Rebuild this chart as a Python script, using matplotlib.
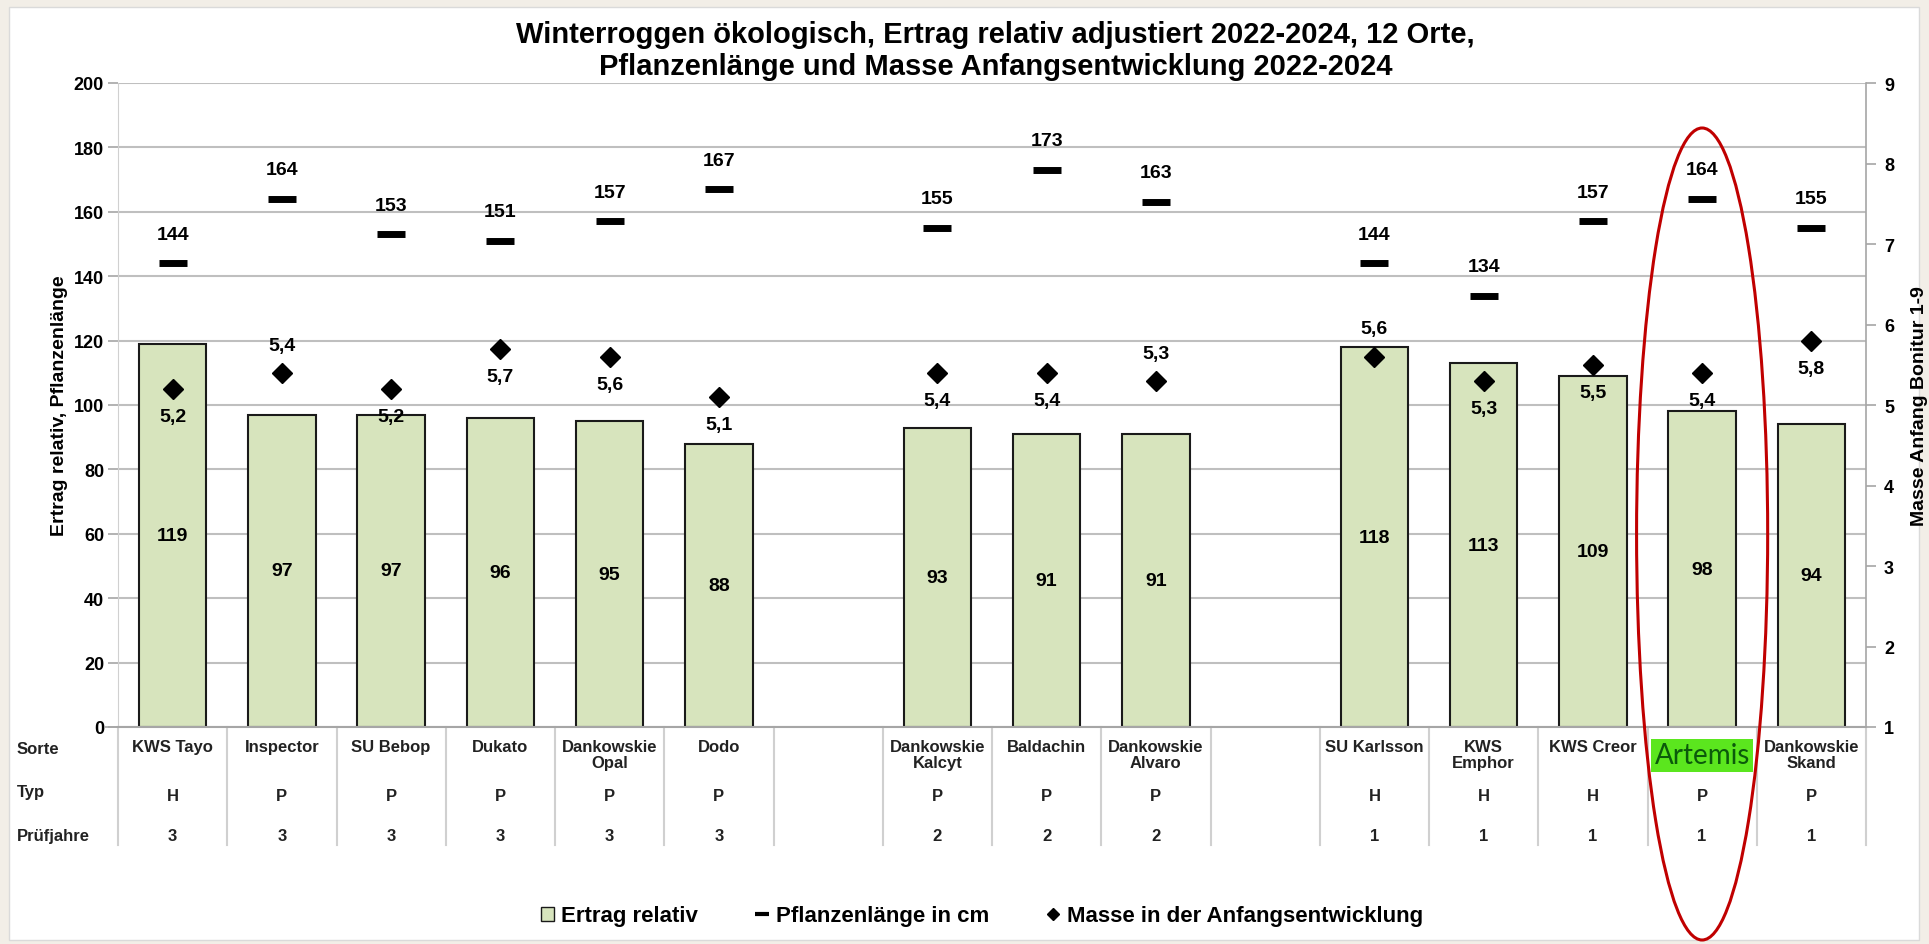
import matplotlib
matplotlib.use('Agg')
import numpy as np
import matplotlib.pyplot as plt
import matplotlib.transforms as mtransforms
from matplotlib.patches import Rectangle, Ellipse, Patch
from matplotlib.lines import Line2D

plt.rcParams['font.family'] = ['Liberation Sans Narrow', 'Liberation Sans', 'DejaVu Sans']
plt.rcParams['font.weight'] = 'bold'
plt.rcParams['axes.labelweight'] = 'bold'

# ---------------- data ----------------
sorten = ['KWS Tayo', 'Inspector', 'SU Bebop', 'Dukato', 'Dankowskie\nOpal', 'Dodo', '',
          'Dankowskie\nKalcyt', 'Baldachin', 'Dankowskie\nAlvaro', '',
          'SU Karlsson', 'KWS\nEmphor', 'KWS Creor', 'Artemis', 'Dankowskie\nSkand']
typ = ['H', 'P', 'P', 'P', 'P', 'P', '', 'P', 'P', 'P', '', 'H', 'H', 'H', 'P', 'P']
pruefjahre = ['3', '3', '3', '3', '3', '3', '', '2', '2', '2', '', '1', '1', '1', '1', '1']
ertrag = [119, 97, 97, 96, 95, 88, np.nan, 93, 91, 91, np.nan, 118, 113, 109, 98, 94]
laenge = [144, 164, 153, 151, 157, 167, np.nan, 155, 173, 163, np.nan, 144, 134, 157, 164, 155]
masse = [5.2, 5.4, 5.2, 5.7, 5.6, 5.1, np.nan, 5.4, 5.4, 5.3, np.nan, 5.6, 5.3, 5.5, 5.4, 5.8]
masse_label_pos = ['below', 'above', 'below', 'below', 'below', 'below', None,
                   'below', 'below', 'above', None, 'above', 'below', 'below', 'below', 'below']
row_labels = ['Sorte', 'Typ', 'Prüfjahre']
highlight = 'Artemis'
left_ticks = list(range(0, 201, 20))
right_ticks = list(range(1, 10))

title = ('Winterroggen ökologisch, Ertrag relativ adjustiert 2022-2024, 12 Orte,\n'
         'Pflanzenlänge und Masse Anfangsentwicklung 2022-2024')

# ---------------- figure ----------------
W, H = 1929, 945
fig = plt.figure(figsize=(W / 100, H / 100), dpi=100)
fig.patch.set_facecolor('#F2EEE7')
fig.add_artist(Rectangle((9 / W, 4 / H), 1910 / W, 933 / H, transform=fig.transFigure,
                         facecolor='white', edgecolor='#DADADA', lw=1, zorder=-5))

ax = fig.add_axes([118 / W, 1 - 728 / H, (1866 - 118) / W, (728 - 84) / H])
ax.set_facecolor('none')
x = np.arange(len(sorten))
er = np.array(ertrag, dtype=float)
la = np.array(laenge, dtype=float)
ma = np.array(masse, dtype=float)

gridc = '#BFBFBF'
axc = '#A6A6A6'

ok = ~np.isnan(er)
ax.bar(x[ok], er[ok], width=0.62, color='#D7E4BD', edgecolor='#1A1A1A', lw=1.5, zorder=2)
for xi, v in zip(x[ok], er[ok]):
    ax.text(xi, v / 2, f'{int(v)}', ha='center', va='center', fontsize=14, zorder=5)

okl = ~np.isnan(la)
ax.plot(x[okl], la[okl], ls='none', marker='_', ms=20, mew=5, color='black', zorder=4)
for xi, v in zip(x[okl], la[okl]):
    ax.annotate(f'{int(v)}', (xi, v), xytext=(0, 21), textcoords='offset points',
                ha='center', va='center', fontsize=14, zorder=5)

ax.set_xlim(-0.5, len(sorten) - 0.5)
ax.set_ylim(0, 200)
ax.set_yticks(left_ticks)
ax.set_xticks([])
ax.yaxis.grid(True, color=gridc, lw=1.5)
ax.set_axisbelow(True)
ax.spines['top'].set_visible(False)
ax.spines['left'].set_color('#D0D0D0')
ax.spines['bottom'].set_color(axc)
ax.spines['bottom'].set_linewidth(1.5)
ax.spines['right'].set_visible(False)
ax.tick_params(axis='y', length=7, color=axc, width=1.2, labelsize=13, pad=3)
ax.set_ylabel('Ertrag relativ, Pflanzenlänge', fontsize=14, fontweight='bold', labelpad=4)

ax2 = ax.twinx()
okm = ~np.isnan(ma)
ax2.plot(x[okm], ma[okm], ls='none', marker='D', ms=10, color='black', zorder=4)
for xi, v, pos in zip(x, ma, masse_label_pos):
    if np.isnan(v):
        continue
    dy = 20 if pos == 'above' else -20
    ax2.annotate(f'{v:.1f}'.replace('.', ','), (xi, v), xytext=(0, dy),
                 textcoords='offset points', ha='center', va='center', fontsize=14)
ax2.set_ylim(1, 9)
ax2.set_yticks(right_ticks)
ax2.spines['top'].set_visible(False)
ax2.spines['left'].set_visible(False)
ax2.spines['bottom'].set_visible(False)
ax2.spines['right'].set_color(axc)
ax2.spines['right'].set_linewidth(1.2)
ax2.tick_params(axis='y', length=7, color=axc, width=1.2, labelsize=13, pad=6)
ax2.set_ylabel('Masse Anfang Bonitur 1-9', fontsize=14, fontweight='bold', labelpad=12)

# ---------------- table below the axis ----------------
tr = ax.get_xaxis_transform()
for b in np.arange(-0.5, len(sorten)):
    ax.add_line(Line2D([b, b], [0, -0.183], transform=tr, color='#D0D0D0', lw=1.5, clip_on=False))
ax.add_line(Line2D([-0.5 - 0.12, -0.5], [0, 0], transform=tr, color=axc, lw=1.2, clip_on=False))

for xi, name, t, p in zip(x, sorten, typ, pruefjahre):
    if name == highlight:
        ax.text(xi, -0.044, name, transform=tr, ha='center', va='center', fontsize=20,
                fontweight='normal', family=['Lato', 'DejaVu Sans'], color='#0B5A0B',
                bbox=dict(boxstyle='square,pad=0.12', fc='#5BE61E', ec='none'))
    else:
        ax.text(xi, -0.018, name, transform=tr, ha='center', va='top', fontsize=12,
                color='#222222', linespacing=1.15)
    ax.text(xi, -0.106, t, transform=tr, ha='center', va='center', fontsize=12, color='#222222')
    ax.text(xi, -0.169, p, transform=tr, ha='center', va='center', fontsize=12, color='#222222')

for lab, yy in zip(row_labels, [750, 793, 837]):
    fig.text(17 / W, 1 - yy / H, lab, ha='left', va='center', fontsize=12, color='#222222')

# ---------------- title ----------------
fig.text(0.516, 1 - 51 / H, title, ha='center', va='center', fontsize=21, linespacing=1.15)

# ---------------- legend ----------------
handles = [Patch(facecolor='#D7E4BD', edgecolor='#1A1A1A', lw=1),
           Line2D([], [], ls='none', marker='_', ms=10, mew=3, color='black'),
           Line2D([], [], ls='none', marker='D', ms=6, color='black')]
labels = ['Ertrag relativ', 'Pflanzenlänge in cm', 'Masse in der Anfangsentwicklung']
fig.legend(handles, labels, loc='center', bbox_to_anchor=(0.509, 1 - 917 / H), ncol=3,
           frameon=False, fontsize=16, handlelength=0.6, handleheight=0.6,
           handletextpad=0.3, columnspacing=2.6)

# ---------------- red ellipse around highlighted variety ----------------
hx = sorten.index(highlight)
btr = mtransforms.blended_transform_factory(ax.transData, fig.transFigure)
fig.add_artist(Ellipse((hx, 1 - 535 / H), 1.2, 812 / H, transform=btr, fill=False,
                       edgecolor='#C00000', lw=2.2, zorder=10))

fig.savefig('out.png', dpi=100, facecolor=fig.get_facecolor())
